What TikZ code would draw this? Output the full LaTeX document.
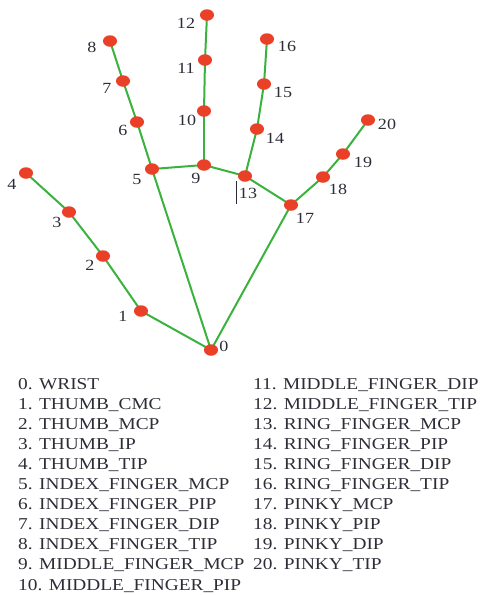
\documentclass[tikz,border=0pt]{standalone}
\usepackage{fontspec}
\setmainfont{Liberation Serif}[FakeStretch=1.165]
\usetikzlibrary{shapes.geometric,backgrounds}
\definecolor{jointred}{RGB}{234,64,40}
\definecolor{bonegreen}{RGB}{58,178,62}
\definecolor{labelgray}{RGB}{45,45,55}

\begin{document}
\begin{tikzpicture}[x=1pt,y=-1pt,
    joint/.style={ellipse,fill=jointred,minimum width=14pt,minimum height=11.5pt,inner sep=0pt},
    bone/.style={bonegreen,line width=2pt},
    idx/.style={text=labelgray,inner sep=0pt,font=\fontsize{15.5}{16}\selectfont},
    entry/.style={text=labelgray,inner sep=0pt,anchor=base west,font=\fontsize{16.6}{20}\selectfont}]
\useasboundingbox (0,0) rectangle (481,595);
% hand landmarks: id / x / y / label offset
\foreach \i/\x/\y/\dx/\dy in {0/211/350/13/-4, 1/141/311/-18/5, 2/103/256/-13/9, 3/69/212/-12/10,
    4/26/173/-14/11, 5/152/169/-15/10, 6/137/122/-14/8, 7/123/81/-16/7, 8/110/41/-18/6,
    9/204/165/-8/13, 10/204/111/-17/9, 11/205/60/-19/8, 12/207/15/-21/8,
    13/245/176/3/17, 14/257/129/18/9, 15/264/84/19/8, 16/267/39/20/7,
    17/291/205/14/13, 18/323/177/15/12, 19/343/154/20/8, 20/368/120/19/4}{
  \node[joint] (n\i) at (\x,\y) {};
  \node[idx] (l\i) at (\x+\dx,\y+\dy) {\ifnum\i=13 \smash{\llap{\rule[-6pt]{1.2pt}{23pt}\hspace{2pt}}}\fi\i};
}
\begin{scope}[on background layer]
  \foreach \a/\b in {0/1,1/2,2/3,3/4,0/5,5/6,6/7,7/8,5/9,9/10,10/11,11/12,
      9/13,13/14,14/15,15/16,13/17,17/18,18/19,19/20,0/17}
    \draw[bone] (n\a.center) -- (n\b.center);
\end{scope}
% legend
\foreach \name [count=\k from 0] in {WRIST, THUMB\_CMC, THUMB\_MCP, THUMB\_IP, THUMB\_TIP,
    INDEX\_FINGER\_MCP, INDEX\_FINGER\_PIP, INDEX\_FINGER\_DIP, INDEX\_FINGER\_TIP,
    MIDDLE\_FINGER\_MCP, MIDDLE\_FINGER\_PIP}
  \node[entry] (t\k) at (18,389+20.1*\k) {\k. \name};
\foreach \name [count=\k from 11] in {MIDDLE\_FINGER\_DIP, MIDDLE\_FINGER\_TIP,
    RING\_FINGER\_MCP, RING\_FINGER\_PIP, RING\_FINGER\_DIP, RING\_FINGER\_TIP,
    PINKY\_MCP, PINKY\_PIP, PINKY\_DIP, PINKY\_TIP}
  \node[entry] (t\k) at (253,389+20.1*\k-221.1) {\k. \name};
\end{tikzpicture}
\end{document}
